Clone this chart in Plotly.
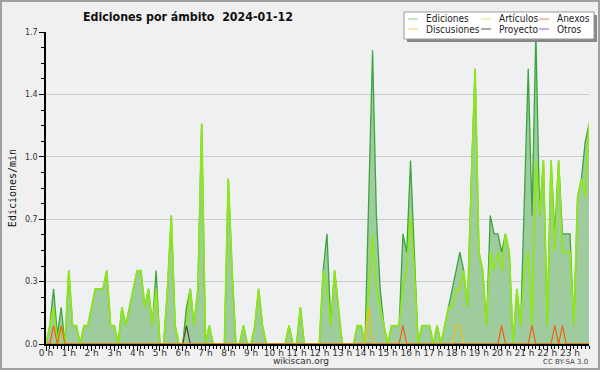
import plotly.graph_objects as go

# 10-minute buckets, 0:00 .. 23:50 (edits per minute)
slots = list(range(144))
hour_ticks = list(range(0, 144, 6))
hour_labels = [f"{h} h" for h in range(24)]

ediciones = [
    0, 0.1, 0.3, 0.05, 0.2, 0, 0.4, 0.1, 0.1, 0, 0.1, 0.1,
    0.2, 0.3, 0.3, 0.3, 0.4, 0.1, 0.1, 0, 0.2, 0.1, 0.2, 0.3,
    0.4, 0.4, 0.2, 0.3, 0.1, 0.4, 0, 0, 0.3, 0.7, 0.1, 0,
    0, 0.2, 0.3, 0.1, 0.3, 1.2, 0, 0.1, 0, 0, 0, 0,
    0.9, 0.4, 0, 0, 0.1, 0, 0, 0.1, 0.3, 0.1, 0, 0,
    0, 0, 0, 0, 0.1, 0, 0, 0.2, 0, 0, 0, 0,
    0, 0.4, 0.6, 0.1, 0.4, 0.2, 0, 0, 0, 0, 0.1, 0.1,
    0, 0.8, 1.6, 0.7, 0.3, 0.1, 0, 0.1, 0.1, 0.1, 0.6, 0.5,
    1.0, 0.5, 0, 0.1, 0.1, 0.1, 0, 0.1, 0, 0.1, 0.2, 0.3,
    0.4, 0.5, 0.4, 0.2, 0.9, 1.5, 0.5, 0.4, 0.1, 0.7, 0.6, 0.6,
    0.5, 0.6, 0.5, 0, 0.3, 0.1, 0.8, 1.5, 0.7, 1.7, 0.7, 1.0,
    0.1, 1.0, 0.6, 1.0, 0.6, 0.6, 0.6, 0.1, 0.8, 0.9, 1.1, 1.2,
]
articulos = [
    0, 0.1, 0.2, 0, 0.1, 0, 0.4, 0.1, 0.1, 0, 0.1, 0.1,
    0.2, 0.3, 0.3, 0.3, 0.4, 0.1, 0.1, 0, 0.2, 0.1, 0.2, 0.3,
    0.4, 0.4, 0.2, 0.3, 0.1, 0.3, 0, 0, 0.3, 0.7, 0.1, 0,
    0, 0.1, 0.3, 0.1, 0.3, 1.2, 0, 0.1, 0, 0, 0, 0,
    0.9, 0.4, 0, 0, 0.1, 0, 0, 0.1, 0.3, 0.1, 0, 0,
    0, 0, 0, 0, 0.1, 0, 0, 0.2, 0, 0, 0, 0,
    0, 0.4, 0.3, 0.1, 0.4, 0.2, 0, 0, 0, 0, 0.1, 0.1,
    0, 0.3, 0.6, 0.3, 0.2, 0.1, 0, 0.1, 0.1, 0.1, 0.3, 0.4,
    0.7, 0.4, 0, 0.1, 0.1, 0.1, 0, 0.1, 0, 0.1, 0.2, 0.2,
    0.3, 0.3, 0.4, 0.2, 0.9, 1.5, 0.5, 0.4, 0.1, 0.5, 0.4, 0.5,
    0.4, 0.6, 0.5, 0, 0.3, 0.1, 0.4, 0.5, 0.1, 1.0, 0.7, 1.0,
    0.1, 1.0, 0.5, 1.0, 0.5, 0.5, 0.5, 0.1, 0.8, 0.9, 0.8, 1.2,
]
anexos = [
    0, 0, 0.1, 0, 0.1, 0, 0, 0, 0, 0, 0, 0,
    0, 0, 0, 0, 0, 0, 0, 0, 0, 0, 0, 0,
    0, 0, 0, 0, 0, 0, 0, 0, 0, 0, 0, 0,
    0, 0, 0, 0, 0, 0, 0, 0, 0, 0, 0, 0,
    0, 0, 0, 0, 0, 0, 0, 0, 0, 0, 0, 0,
    0, 0, 0, 0, 0, 0, 0, 0, 0, 0, 0, 0,
    0, 0, 0, 0, 0, 0, 0, 0, 0, 0, 0, 0,
    0, 0, 0, 0, 0, 0, 0, 0, 0, 0, 0.1, 0,
    0, 0, 0, 0, 0, 0, 0, 0, 0, 0, 0, 0,
    0, 0, 0, 0, 0, 0, 0, 0, 0, 0, 0, 0,
    0.1, 0, 0, 0, 0, 0, 0, 0, 0.1, 0, 0, 0,
    0, 0, 0.1, 0, 0.1, 0, 0, 0, 0, 0, 0, 0,
]
discusiones = [
    0, 0, 0, 0, 0, 0, 0, 0, 0, 0, 0, 0,
    0, 0, 0, 0, 0, 0, 0, 0, 0, 0, 0, 0,
    0, 0, 0, 0, 0, 0, 0, 0, 0, 0, 0, 0,
    0, 0, 0, 0, 0, 0, 0, 0, 0, 0, 0, 0,
    0, 0, 0, 0, 0, 0, 0, 0, 0, 0, 0, 0,
    0, 0, 0, 0, 0, 0, 0, 0, 0, 0, 0, 0,
    0, 0, 0, 0, 0, 0, 0, 0, 0, 0, 0, 0,
    0, 0.2, 0, 0, 0, 0, 0, 0, 0, 0, 0, 0,
    0, 0, 0, 0, 0, 0, 0, 0, 0, 0, 0, 0,
    0.1, 0.1, 0, 0, 0, 0, 0, 0, 0, 0, 0, 0,
    0, 0, 0, 0, 0, 0, 0, 0, 0, 0, 0, 0,
    0, 0, 0, 0, 0, 0, 0, 0, 0, 0, 0, 0,
]
proyecto = [
    0, 0, 0, 0, 0, 0, 0, 0, 0, 0, 0, 0,
    0, 0, 0, 0, 0, 0, 0, 0, 0, 0, 0, 0,
    0, 0, 0, 0, 0, 0, 0, 0, 0, 0, 0, 0,
    0, 0.1, 0, 0, 0, 0, 0, 0, 0, 0, 0, 0,
    0, 0, 0, 0, 0, 0, 0, 0, 0, 0, 0, 0,
    0, 0, 0, 0, 0, 0, 0, 0, 0, 0, 0, 0,
    0, 0, 0, 0, 0, 0, 0, 0, 0, 0, 0, 0,
    0, 0, 0, 0, 0, 0, 0, 0, 0, 0, 0, 0,
    0, 0, 0, 0, 0, 0, 0, 0, 0, 0, 0, 0,
    0, 0, 0, 0, 0, 0, 0, 0, 0, 0, 0, 0,
    0, 0, 0, 0, 0, 0, 0, 0, 0, 0, 0, 0,
    0, 0, 0, 0, 0, 0, 0, 0, 0, 0, 0, 0,
]

y_ticks = [0, 0.34, 0.68, 1.02, 1.36, 1.7]
y_labels = ["0.0", "0.3", "0.7", "1.0", "1.4", "1.7"]

# layout in pixels
W, H = 600, 370
L, R, T, B = 46, 11, 32, 26
PW, PH = W - L - R, H - T - B


def px(x):
    return (x - L) / PW


def py(y):
    return (H - B - y) / PH


fig = go.Figure()
fig.add_trace(go.Scatter(x=slots, y=ediciones, mode="lines", fill="tozeroy",
                         fillcolor="#9fcc9f", line=dict(color="#3ca53c", width=1.3),
                         name="Ediciones", showlegend=False, hoverinfo="skip"))
fig.add_trace(go.Scatter(x=slots, y=articulos, mode="lines",
                         line=dict(color="#90e61c", width=1.8),
                         name="Artículos", showlegend=False, hoverinfo="skip"))
fig.add_trace(go.Scatter(x=slots, y=proyecto, mode="lines",
                         line=dict(color="#444444", width=1.2),
                         name="Proyecto", showlegend=False, hoverinfo="skip"))
fig.add_trace(go.Scatter(x=slots, y=discusiones, mode="lines",
                         line=dict(color="#f0c010", width=1.2),
                         name="Discusiones", showlegend=False, hoverinfo="skip"))
fig.add_trace(go.Scatter(x=slots, y=anexos, mode="lines",
                         line=dict(color="#f06010", width=1.2),
                         name="Anexos", showlegend=False, hoverinfo="skip"))

tick_font = dict(family="DejaVu Sans", size=8, color="#333333")

fig.update_layout(
    width=W, height=H,
    margin=dict(l=L, r=R, t=T, b=B, autoexpand=False),
    paper_bgcolor="#f0f0f0", plot_bgcolor="#eef0f2",
    showlegend=False,
    xaxis=dict(range=[0, 143], tickmode="array", tickvals=hour_ticks, ticktext=hour_labels,
               ticks="outside", ticklen=5, tickcolor="black", tickwidth=1,
               ticklabelstandoff=-6,
               showline=True, linecolor="black", linewidth=1.5, showgrid=False,
               zeroline=False, tickfont=dict(family="DejaVu Sans", size=9, color="#333333"),
               minor=dict(dtick=1, tick0=0, ticks="outside", ticklen=3, tickcolor="black",
                          showgrid=False)),
    yaxis=dict(range=[0, 1.7], tickmode="array", tickvals=y_ticks, ticktext=y_labels,
               ticks="outside", ticklen=5, tickcolor="black", tickwidth=1,
               showline=True, linecolor="black", linewidth=1.5,
               showgrid=True, gridcolor="#cccccc", gridwidth=1, zeroline=False,
               tickfont=tick_font,
               minor=dict(dtick=0.085, tick0=0, ticks="outside", ticklen=3,
                          tickcolor="black", showgrid=False),
               title=dict(text="Ediciones/min", font=dict(family="DejaVu Sans Mono", size=10,
                                                           color="#111111"), standoff=6)),
)

anns = []
anns.append(dict(x=px(188), y=py(17), xref="paper", yref="paper", showarrow=False,
                 text="<b>Ediciones por ámbito  2024-01-12</b>",
                 font=dict(family="DejaVu Sans Condensed, DejaVu Sans", size=12.3, color="#111111"),
                 xanchor="center", yanchor="middle"))
anns.append(dict(x=px(301), y=py(361), xref="paper", yref="paper", showarrow=False,
                 text="wikiscan.org", font=dict(family="DejaVu Sans", size=9, color="#333333"),
                 xanchor="center", yanchor="middle"))
anns.append(dict(x=px(590), y=py(362), xref="paper", yref="paper", showarrow=False,
                 text="CC BY-SA 3.0", font=dict(family="DejaVu Sans", size=7, color="#444444"),
                 xanchor="right", yanchor="middle"))

shapes = []
# legend shadow + box
shapes.append(dict(type="rect", xref="paper", yref="paper", x0=px(407), x1=px(597),
                   y0=py(15), y1=py(42), fillcolor="#888888", line=dict(width=0), layer="above"))
shapes.append(dict(type="rect", xref="paper", yref="paper", x0=px(404), x1=px(594),
                   y0=py(12), y1=py(39), fillcolor="#ffffff",
                   line=dict(color="#999999", width=1), layer="above"))

legend_items = [
    ("Ediciones", "#8fd18f", 408, 19), ("Discusiones", "#f0d060", 408, 29),
    ("Artículos", "#c8ee66", 481, 19), ("Proyecto", "#555555", 481, 29),
    ("Anexos", "#f08050", 539, 19), ("Otros", "#9a4cf0", 539, 29),
]
for name, col, x0, yy in legend_items:
    shapes.append(dict(type="line", xref="paper", yref="paper", x0=px(x0), x1=px(x0 + 10),
                       y0=py(yy), y1=py(yy), line=dict(color=col, width=1), layer="above"))
    anns.append(dict(x=px(x0 + 16), y=py(yy), xref="paper", yref="paper", showarrow=False,
                     text=name, xanchor="left", yanchor="middle",
                     font=dict(family="DejaVu Sans Condensed, DejaVu Sans", size=10,
                               color="#222222")))

fig.update_layout(annotations=anns, shapes=shapes)
fig.write_html(
    "out.html",
    config={"displayModeBar": False},
    post_script=(
        "document.body.style.margin='0';"
        "var o=document.createElement('div');"
        "o.style.cssText='position:absolute;left:0;top:0;width:600px;height:370px;"
        "box-sizing:border-box;border:2px solid #a0a0a0;pointer-events:none;z-index:1000';"
        "document.body.appendChild(o);"
    ),
)
